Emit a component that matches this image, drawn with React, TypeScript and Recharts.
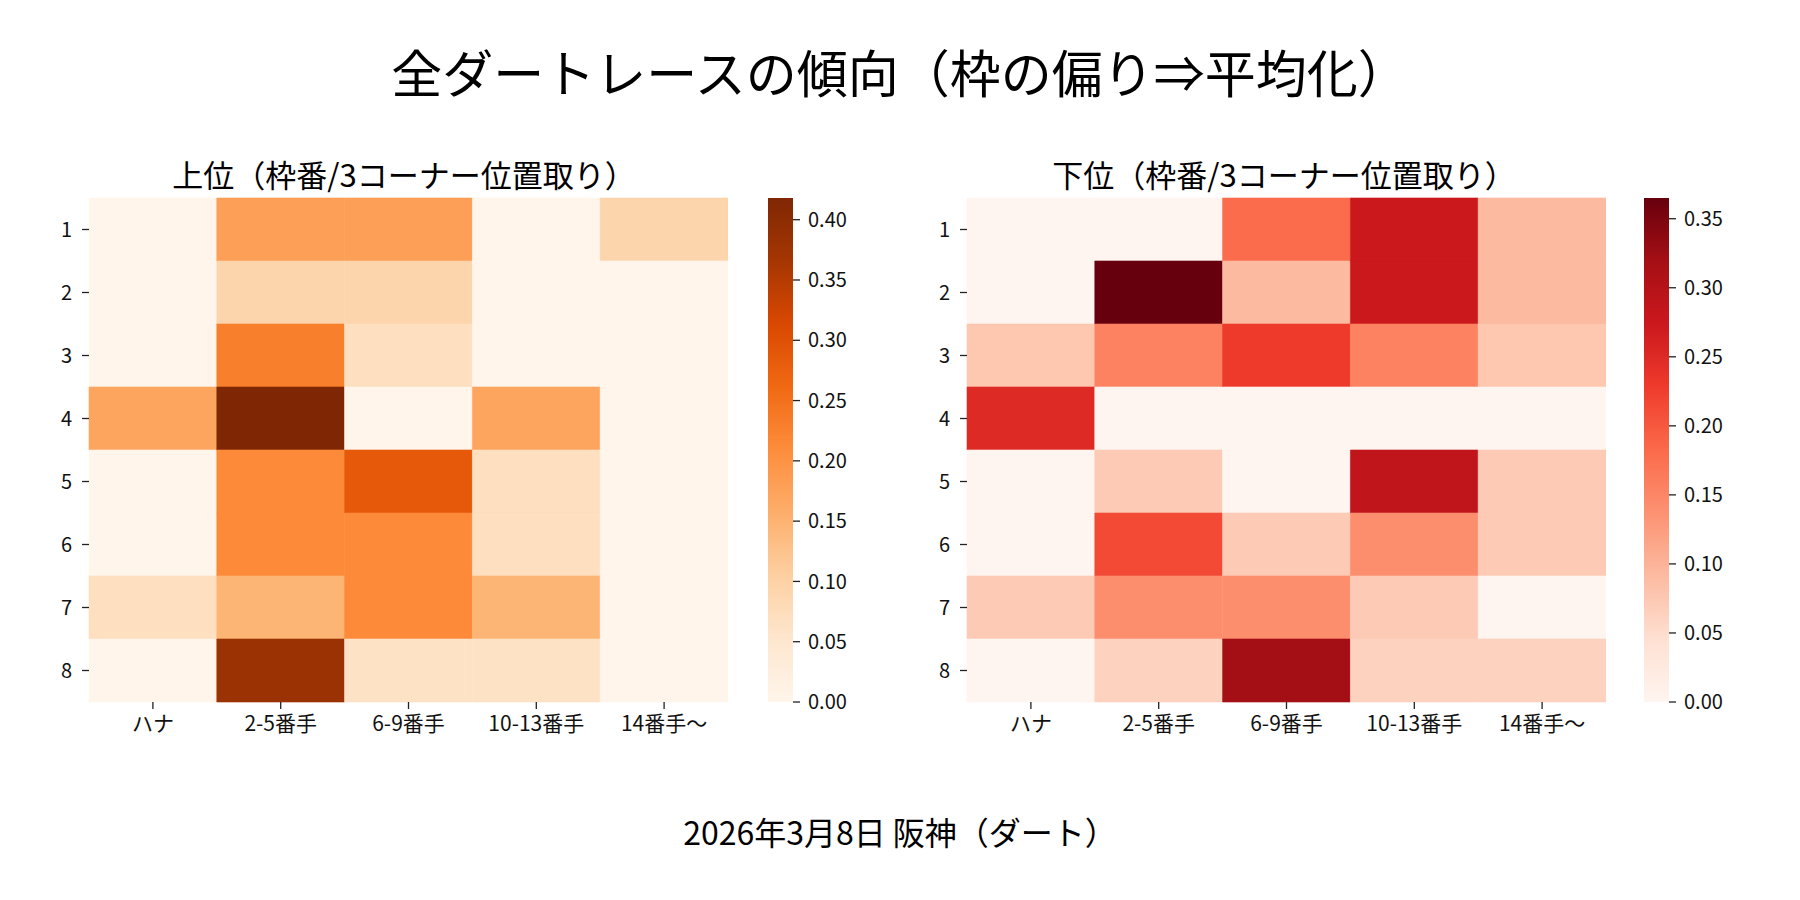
import React from "react";
import { BarChart, Bar, XAxis, YAxis, Cell } from "recharts";

const FONT = "'Noto Sans CJK JP', 'Noto Sans', sans-serif";

const rows = ["1", "2", "3", "4", "5", "6", "7", "8"];
const cols = ["ハナ", "2-5番手", "6-9番手", "10-13番手", "14番手〜"];

// 上位: share per 枠 (row) and corner position (col)
const topValues = [
  [0, 0.18, 0.18, 0, 0.092],
  [0, 0.092, 0.092, 0, 0],
  [0, 0.23, 0.07, 0, 0],
  [0.171, 0.418, 0, 0.171, 0],
  [0, 0.213, 0.286, 0.07, 0],
  [0, 0.213, 0.213, 0.07, 0],
  [0.07, 0.146, 0.213, 0.146, 0],
  [0, 0.38, 0.062, 0.062, 0],
];

// 下位
const bottomValues = [
  [0, 0, 0.18, 0.274, 0.091],
  [0, 0.365, 0.091, 0.274, 0.091],
  [0.077, 0.155, 0.23, 0.155, 0.077],
  [0.25, 0, 0, 0, 0],
  [0, 0.073, 0, 0.287, 0.073],
  [0, 0.214, 0.073, 0.142, 0.073],
  [0.073, 0.142, 0.142, 0.073, 0],
  [0, 0.063, 0.32, 0.063, 0.063],
];

const topTicks = [0, 0.05, 0.1, 0.15, 0.2, 0.25, 0.3, 0.35, 0.4];
const bottomTicks = [0, 0.05, 0.1, 0.15, 0.2, 0.25, 0.3, 0.35];

const ORANGES = ["#fff5eb", "#fee6ce", "#fdd0a2", "#fdae6b", "#fd8d3c", "#f16913", "#d94801", "#a63603", "#7f2704"];
const REDS = ["#fff5f0", "#fee0d2", "#fcbba1", "#fc9272", "#fb6a4a", "#ef3b2c", "#cb181d", "#a50f15", "#67000d"];

function hex(c: string) {
  return [1, 3, 5].map((i) => parseInt(c.slice(i, i + 2), 16));
}

function cmap(stops: string[], t: number) {
  const k = Math.max(0, Math.min(1, t)) * (stops.length - 1);
  const i = Math.min(Math.floor(k), stops.length - 2);
  const f = k - i;
  const a = hex(stops[i]);
  const b = hex(stops[i + 1]);
  const m = a.map((v, j) => Math.round(v + (b[j] - v) * f));
  return `rgb(${m[0]},${m[1]},${m[2]})`;
}

const tickStyle = { fontSize: 20, fill: "#111", fontFamily: FONT };
const lineStyle = { stroke: "#222", strokeWidth: 1.3 };

function Heatmap({ values, stops }: { values: number[][]; stops: string[] }) {
  const vmax = Math.max(...values.flat());
  const data = rows.map((r) => {
    const o: Record<string, number | string> = { row: r };
    cols.forEach((_, ci) => (o[`c${ci}`] = 1));
    return o;
  });
  return (
    <BarChart
      width={728}
      height={780}
      data={data}
      layout="vertical"
      barCategoryGap={0}
      barGap={0}
      margin={{ top: 198, right: 0, left: 0, bottom: 0 }}
    >
      <XAxis
        type="number"
        domain={[0, 5]}
        ticks={[0.5, 1.5, 2.5, 3.5, 4.5]}
        interval={0}
        tickFormatter={(v: number) => cols[Math.floor(v)]}
        axisLine={false}
        tickLine={lineStyle}
        tickSize={7}
        tickMargin={7}
        height={78}
        tick={{ ...tickStyle, fontSize: 21 }}
      />
      <YAxis
        type="category"
        dataKey="row"
        width={89}
        axisLine={false}
        tickLine={lineStyle}
        tickSize={7}
        tickMargin={10}
        tick={tickStyle}
      />
      {cols.map((_, ci) => (
        <Bar key={ci} dataKey={`c${ci}`} stackId="s" isAnimationActive={false}>
          {rows.map((_, ri) => {
            const c = cmap(stops, values[ri][ci] / vmax);
            return <Cell key={ri} fill={c} stroke={c} strokeWidth={0.6} />;
          })}
        </Bar>
      ))}
    </BarChart>
  );
}

function Colorbar({ values, stops, ticks, id }: { values: number[][]; stops: string[]; ticks: number[]; id: string }) {
  const vmax = Math.max(...values.flat());
  return (
    <BarChart
      width={105}
      height={544}
      data={[{ name: "cb", v: vmax }]}
      barCategoryGap={0}
      margin={{ top: 20, right: 0, left: 0, bottom: 20 }}
    >
      <defs>
        <linearGradient id={id} x1="0" y1="1" x2="0" y2="0">
          {stops.map((s, i) => (
            <stop key={i} offset={i / (stops.length - 1)} stopColor={s} />
          ))}
        </linearGradient>
      </defs>
      <XAxis dataKey="name" hide />
      <YAxis
        orientation="right"
        type="number"
        domain={[0, vmax]}
        ticks={ticks}
        interval={0}
        width={80}
        axisLine={false}
        tickLine={lineStyle}
        tickSize={7}
        tickMargin={8}
        tick={{ ...tickStyle, textAnchor: "start" }}
        tickFormatter={(v: number) => v.toFixed(2)}
      />
      <Bar dataKey="v" fill={`url(#${id})`} isAnimationActive={false} />
    </BarChart>
  );
}

export default function App() {
  return (
    <div style={{ position: "absolute", left: 0, top: 0, width: 1800, height: 900, background: "#fff", fontFamily: FONT }}>
      <div style={{ position: "absolute", left: 0, top: 0 }}>
        <Heatmap values={topValues} stops={ORANGES} />
      </div>
      <div style={{ position: "absolute", left: 768, top: 178 }}>
        <Colorbar values={topValues} stops={ORANGES} ticks={topTicks} id="gradOranges" />
      </div>
      <div style={{ position: "absolute", left: 878, top: 0 }}>
        <Heatmap values={bottomValues} stops={REDS} />
      </div>
      <div style={{ position: "absolute", left: 1644, top: 178 }}>
        <Colorbar values={bottomValues} stops={REDS} ticks={bottomTicks} id="gradReds" />
      </div>
      <svg width={1800} height={900} style={{ position: "absolute", left: 0, top: 0, pointerEvents: "none" }}>
        <text x={900} y={71} textAnchor="middle" dominantBaseline="central" fontSize={51} fontFamily={FONT} fill="#000">
          全ダートレースの傾向（枠の偏り⇒平均化）
        </text>
        <text x={404} y={173} textAnchor="middle" dominantBaseline="central" fontSize={31} fontFamily={FONT} fill="#000">
          上位（枠番/3コーナー位置取り）
        </text>
        <text x={1284} y={173} textAnchor="middle" dominantBaseline="central" fontSize={31} fontFamily={FONT} fill="#000">
          下位（枠番/3コーナー位置取り）
        </text>
        <text x={900} y={831} textAnchor="middle" dominantBaseline="central" fontSize={32} fontFamily={FONT} fill="#000">
          2026年3月8日 阪神（ダート）
        </text>
      </svg>
    </div>
  );
}
